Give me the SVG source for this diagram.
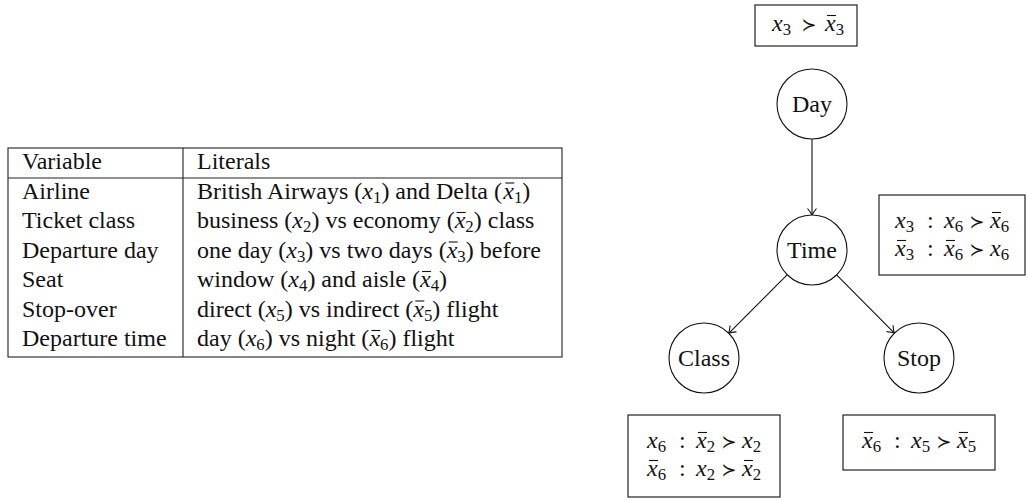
<svg xmlns="http://www.w3.org/2000/svg" width="1028" height="500" viewBox="0 0 1028 500">
<style>
.t{font-family:"Liberation Serif","Times New Roman",serif;font-size:24px;fill:#111}
.i{font-style:italic}
.s{font-size:16.8px;font-style:normal}
.rel{font-family:"DejaVu Sans",sans-serif;font-size:18px}
.bar{stroke:#111;stroke-width:1.1}
.box{fill:none;stroke:#222;stroke-width:1.2}
.tb{fill:none;stroke:#222;stroke-width:1.1}
.node circle{fill:#fff;stroke:#111;stroke-width:1.1}
.edge{stroke:#111;stroke-width:1.1;fill:none;marker-end:url(#arr)}
</style>
<defs>
<marker id="arr" markerWidth="10" markerHeight="12" viewBox="-8 -6 10 12" refX="0" refY="0" orient="auto" markerUnits="userSpaceOnUse">
<path d="M -6.5 -4.5 Q -2.5 -1.2 0 0 Q -2.5 1.2 -6.5 4.5" fill="none" stroke="#111" stroke-width="1.1"/>
</marker>
</defs>
<rect width="1028" height="500" fill="#fff"/>

<g id="table">
<rect class="tb" x="8" y="148" width="554" height="209"/>
<line class="tb" x1="8" y1="178" x2="562" y2="178"/>
<line class="tb" x1="183" y1="148" x2="183" y2="357"/>
<text class="t" x="22" y="169">Variable</text>
<text class="t" x="197" y="169">Literals</text>
<text class="t" x="22" y="198.5">Airline</text>
<text class="t" x="22" y="228">Ticket class</text>
<text class="t" x="22" y="257.5">Departure day</text>
<text class="t" x="22" y="287">Seat</text>
<text class="t" x="22" y="316.5">Stop-over</text>
<text class="t" x="22" y="346">Departure time</text>

<text class="t" x="197" y="198.5">British Airways (<tspan class="i">x</tspan><tspan class="s" dy="4">1</tspan><tspan dy="-4">) and Delta (</tspan><tspan class="i" x="503.3">x</tspan><tspan class="s" dy="4">1</tspan><tspan dy="-4">)</tspan></text>
<line class="bar" x1="505.3" y1="183" x2="514.3" y2="183"/>
<text class="t" x="197" y="228">business (<tspan class="i">x</tspan><tspan class="s" dy="4">2</tspan><tspan dy="-4">) vs economy (</tspan><tspan class="i" x="454.7">x</tspan><tspan class="s" dy="4">2</tspan><tspan dy="-4">) class</tspan></text>
<line class="bar" x1="456.7" y1="212.5" x2="465.7" y2="212.5"/>
<text class="t" x="197" y="257.5">one day (<tspan class="i">x</tspan><tspan class="s" dy="4">3</tspan><tspan dy="-4">) vs two days (</tspan><tspan class="i" x="446.7">x</tspan><tspan class="s" dy="4">3</tspan><tspan dy="-4">) before</tspan></text>
<line class="bar" x1="448.7" y1="242" x2="457.7" y2="242"/>
<text class="t" x="197" y="287">window (<tspan class="i">x</tspan><tspan class="s" dy="4">4</tspan><tspan dy="-4">) and aisle (</tspan><tspan class="i" x="420">x</tspan><tspan class="s" dy="4">4</tspan><tspan dy="-4">)</tspan></text>
<line class="bar" x1="422" y1="271.5" x2="431" y2="271.5"/>
<text class="t" x="197" y="316.5">direct (<tspan class="i">x</tspan><tspan class="s" dy="4">5</tspan><tspan dy="-4">) vs indirect (</tspan><tspan class="i" x="413.3">x</tspan><tspan class="s" dy="4">5</tspan><tspan dy="-4">) flight</tspan></text>
<line class="bar" x1="415.3" y1="301" x2="424.3" y2="301"/>
<text class="t" x="197" y="346">day (<tspan class="i">x</tspan><tspan class="s" dy="4">6</tspan><tspan dy="-4">) vs night (</tspan><tspan class="i" x="369.4">x</tspan><tspan class="s" dy="4">6</tspan><tspan dy="-4">) flight</tspan></text>
<line class="bar" x1="371.4" y1="330.5" x2="380.4" y2="330.5"/>
</g>

<g id="connectors">
<line class="edge" x1="812" y1="139" x2="812" y2="215"/>
<line class="edge" x1="787.3" y1="274.7" x2="728.7" y2="333.3"/>
<line class="edge" x1="836.6" y1="274.9" x2="894.4" y2="333.1"/>
</g>

<g id="node-day" class="node">
<circle cx="812" cy="104" r="35"/>
<text class="t" x="812" y="112" text-anchor="middle">Day</text>
</g>
<g id="node-time" class="node">
<circle cx="812" cy="250" r="35"/>
<text class="t" x="812" y="258" text-anchor="middle">Time</text>
</g>
<g id="node-class" class="node">
<circle cx="704" cy="358" r="35"/>
<text class="t" x="704" y="366" text-anchor="middle">Class</text>
</g>
<g id="node-stop" class="node">
<circle cx="919" cy="358" r="35"/>
<text class="t" x="919" y="366" text-anchor="middle">Stop</text>
</g>

<g id="cpt-day">
<rect class="box" x="755" y="5" width="102" height="41"/>
<text class="t"><tspan class="i" x="772" y="31">x</tspan><tspan class="s" x="782.7" y="35">3</tspan><tspan class="rel" x="809" y="31" text-anchor="middle">≻</tspan><tspan class="i" x="825" y="31">x</tspan><tspan class="s" x="835.7" y="35">3</tspan></text>
<line class="bar" x1="827" y1="15.5" x2="836" y2="15.5"/>
</g>

<g id="cpt-time">
<rect class="box" x="879" y="195" width="146" height="80"/>
<text class="t"><tspan class="i" x="895" y="228">x</tspan><tspan class="s" x="905.7" y="232">3</tspan><tspan x="927" y="228">:</tspan><tspan class="i" x="944" y="228">x</tspan><tspan class="s" x="954.7" y="232">6</tspan><tspan class="rel" x="977" y="228" text-anchor="middle">≻</tspan><tspan class="i" x="990" y="228">x</tspan><tspan class="s" x="1000.7" y="232">6</tspan></text>
<line class="bar" x1="992" y1="212.5" x2="1001" y2="212.5"/>
<text class="t"><tspan class="i" x="895" y="256">x</tspan><tspan class="s" x="905.7" y="260">3</tspan><tspan x="927" y="256">:</tspan><tspan class="i" x="944" y="256">x</tspan><tspan class="s" x="954.7" y="260">6</tspan><tspan class="rel" x="977" y="256" text-anchor="middle">≻</tspan><tspan class="i" x="990" y="256">x</tspan><tspan class="s" x="1000.7" y="260">6</tspan></text>
<line class="bar" x1="897" y1="240.5" x2="906" y2="240.5"/>
<line class="bar" x1="946" y1="240.5" x2="955" y2="240.5"/>
</g>

<g id="cpt-class">
<rect class="box" x="628" y="415" width="152" height="82"/>
<text class="t"><tspan class="i" x="647" y="448">x</tspan><tspan class="s" x="657.7" y="452">6</tspan><tspan x="679" y="448">:</tspan><tspan class="i" x="696" y="448">x</tspan><tspan class="s" x="706.7" y="452">2</tspan><tspan class="rel" x="729" y="448" text-anchor="middle">≻</tspan><tspan class="i" x="742" y="448">x</tspan><tspan class="s" x="752.7" y="452">2</tspan></text>
<line class="bar" x1="698" y1="432.5" x2="707" y2="432.5"/>
<text class="t"><tspan class="i" x="647" y="476">x</tspan><tspan class="s" x="657.7" y="480">6</tspan><tspan x="679" y="476">:</tspan><tspan class="i" x="696" y="476">x</tspan><tspan class="s" x="706.7" y="480">2</tspan><tspan class="rel" x="729" y="476" text-anchor="middle">≻</tspan><tspan class="i" x="742" y="476">x</tspan><tspan class="s" x="752.7" y="480">2</tspan></text>
<line class="bar" x1="649" y1="460.5" x2="658" y2="460.5"/>
<line class="bar" x1="744" y1="460.5" x2="753" y2="460.5"/>
</g>

<g id="cpt-stop">
<rect class="box" x="843" y="415" width="152" height="55"/>
<text class="t"><tspan class="i" x="862" y="448">x</tspan><tspan class="s" x="872.7" y="452">6</tspan><tspan x="894" y="448">:</tspan><tspan class="i" x="911" y="448">x</tspan><tspan class="s" x="921.7" y="452">5</tspan><tspan class="rel" x="944" y="448" text-anchor="middle">≻</tspan><tspan class="i" x="957" y="448">x</tspan><tspan class="s" x="967.7" y="452">5</tspan></text>
<line class="bar" x1="864" y1="432.5" x2="873" y2="432.5"/>
<line class="bar" x1="959" y1="432.5" x2="968" y2="432.5"/>
</g>
</svg>
